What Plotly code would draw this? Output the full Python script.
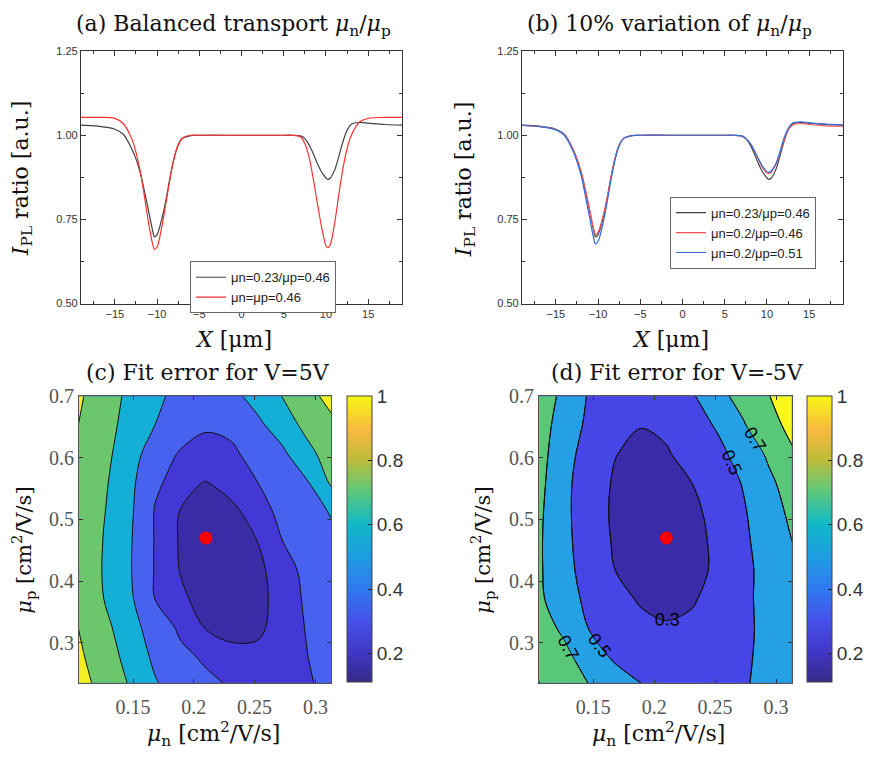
import numpy as np
import plotly.graph_objects as go

# ---------------- data: line profiles ----------------
x_um = [-19, -17, -15, -14, -13, -12.5, -12, -11.5, -11, -10.5, -10.3, -10, -9.5, -9, -8.5, -8, -7.5, -7, -6, -5,
        0, 5, 6, 7, 7.5, 8, 8.5, 9, 9.5, 10, 10.2, 10.5, 11, 11.5, 12, 12.5, 13, 14, 15, 17, 19]

black_023_046 = [1.030, 1.027, 1.018, 1.003, 0.960, 0.930, 0.890, 0.835, 0.775, 0.715, 0.698, 0.705, 0.745, 0.800,
                 0.870, 0.930, 0.970, 0.990, 0.999, 1.000, 1.000, 1.000, 1.000, 0.998, 0.990, 0.972, 0.945, 0.915,
                 0.890, 0.873, 0.869, 0.873, 0.895, 0.935, 0.980, 1.015, 1.033, 1.038, 1.036, 1.032, 1.030]
red_equal_046 = [1.053, 1.053, 1.050, 1.035, 0.990, 0.950, 0.895, 0.820, 0.740, 0.675, 0.661, 0.668, 0.720, 0.790,
                 0.865, 0.930, 0.972, 0.992, 1.000, 1.000, 1.000, 1.000, 1.000, 0.995, 0.975, 0.935, 0.870, 0.795,
                 0.725, 0.672, 0.666, 0.675, 0.735, 0.820, 0.900, 0.960, 1.000, 1.040, 1.050, 1.053, 1.053]
red_020_046 = [1.029, 1.026, 1.017, 1.002, 0.960, 0.930, 0.892, 0.840, 0.780, 0.720, 0.705, 0.712, 0.750, 0.805,
               0.872, 0.930, 0.970, 0.990, 0.999, 1.000, 1.000, 1.000, 1.000, 0.998, 0.990, 0.977, 0.955, 0.927,
               0.903, 0.888, 0.886, 0.890, 0.910, 0.945, 0.985, 1.015, 1.030, 1.035, 1.032, 1.028, 1.027]
blue_020_051 = [1.029, 1.026, 1.016, 1.000, 0.955, 0.922, 0.880, 0.820, 0.755, 0.693, 0.677, 0.685, 0.728, 0.790,
                0.862, 0.925, 0.968, 0.990, 0.999, 1.000, 1.000, 1.000, 1.000, 0.998, 0.990, 0.976, 0.955, 0.930,
                0.907, 0.892, 0.890, 0.894, 0.913, 0.948, 0.990, 1.020, 1.036, 1.040, 1.037, 1.033, 1.031]

names_a = ["μn=0.23/μp=0.46", "μn=μp=0.46"]
names_b = ["μn=0.23/μp=0.46", "μn=0.2/μp=0.46", "μn=0.2/μp=0.51"]

# ---------------- data: fit-error maps ----------------
mu_n = [0.105, 0.126, 0.147, 0.168, 0.189, 0.210, 0.231, 0.252, 0.273, 0.294, 0.315]
mu_p = [0.230, 0.277, 0.324, 0.371, 0.418, 0.465, 0.512, 0.559, 0.606, 0.653, 0.700]

err_5V = [
    [1.15, 0.88, 0.69, 0.52, 0.42, 0.34, 0.29, 0.265, 0.27, 0.29, 0.33],
    [1.06, 0.82, 0.625, 0.465, 0.34, 0.275, 0.24, 0.225, 0.25, 0.30, 0.36],
    [1.00, 0.76, 0.58, 0.41, 0.27, 0.195, 0.16, 0.18, 0.24, 0.31, 0.37],
    [0.96, 0.70, 0.54, 0.30, 0.22, 0.16, 0.14, 0.165, 0.245, 0.32, 0.38],
    [0.94, 0.68, 0.52, 0.29, 0.195, 0.14, 0.135, 0.17, 0.26, 0.33, 0.42],
    [0.94, 0.69, 0.525, 0.29, 0.19, 0.145, 0.15, 0.20, 0.30, 0.39, 0.47],
    [0.95, 0.71, 0.54, 0.29, 0.195, 0.16, 0.175, 0.243, 0.336, 0.432, 0.52],
    [0.96, 0.73, 0.556, 0.325, 0.244, 0.195, 0.238, 0.296, 0.394, 0.49, 0.75],
    [0.98, 0.76, 0.58, 0.41, 0.28, 0.24, 0.27, 0.36, 0.465, 0.64, 0.82],
    [1.00, 0.79, 0.62, 0.50, 0.40, 0.32, 0.34, 0.46, 0.588, 0.77, 0.95],
    [1.05, 0.82, 0.65, 0.536, 0.45, 0.37, 0.45, 0.564, 0.705, 0.905, 1.12],
]
err_m5V = [
    [1.02, 0.85, 0.70, 0.60, 0.51, 0.46, 0.44, 0.45, 0.48, 0.56, 0.62],
    [0.90, 0.76, 0.59, 0.47, 0.41, 0.38, 0.39, 0.42, 0.47, 0.55, 0.62],
    [0.80, 0.66, 0.49, 0.41, 0.35, 0.32, 0.34, 0.39, 0.46, 0.55, 0.63],
    [0.74, 0.58, 0.455, 0.36, 0.28, 0.24, 0.28, 0.37, 0.46, 0.56, 0.64],
    [0.73, 0.56, 0.42, 0.30, 0.22, 0.19, 0.23, 0.34, 0.45, 0.57, 0.66],
    [0.73, 0.55, 0.40, 0.28, 0.21, 0.19, 0.24, 0.34, 0.46, 0.60, 0.71],
    [0.74, 0.545, 0.39, 0.27, 0.21, 0.20, 0.25, 0.372, 0.48, 0.62, 0.75],
    [0.76, 0.55, 0.393, 0.28, 0.22, 0.23, 0.30, 0.406, 0.51, 0.66, 0.80],
    [0.78, 0.57, 0.42, 0.305, 0.26, 0.285, 0.36, 0.45, 0.574, 0.73, 0.98],
    [0.80, 0.605, 0.46, 0.36, 0.305, 0.33, 0.42, 0.52, 0.675, 0.897, 1.10],
    [0.83, 0.648, 0.48, 0.43, 0.38, 0.38, 0.48, 0.62, 0.795, 0.99, 1.20],
]
levels_5V = [0.2, 0.3, 0.5, 0.7, 1.0]
levels_m5V = [0.3, 0.5, 0.7, 1.0]
best_fit = (0.21, 0.47)

# ---------------- styles ----------------
bands_5V = ["#3A2CA4", "#4338D6", "#4862F0", "#14AFD6", "#6CC76C", "#F4F020"]
bands_m5V = ["#3A2BA8", "#4646E6", "#25A0E4", "#58C878", "#F8F81C"]
parula_like = [[0.0, "#352A87"], [0.10, "#4136C4"], [0.21, "#4550E8"], [0.32, "#3078F0"],
               [0.45, "#1CA0E0"], [0.55, "#10B8C8"], [0.67, "#60C878"], [0.78, "#C0BC38"],
               [0.88, "#F8B840"], [1.0, "#F8F814"]]

W, H = 870, 762
def px(x): return x / W
def py(y): return 1 - y / H

serif = "DejaVu Serif, serif"
tickserif = "Liberation Serif, Times New Roman, serif"
sans = "Liberation Sans, Arial, sans-serif"

fig = go.Figure()

# (a)
cols_a = ["#404040", "#FF3030"]
for yv, nm, c in zip([black_023_046, red_equal_046], names_a, cols_a):
    fig.add_trace(go.Scatter(x=x_um, y=yv, mode="lines", name=nm, line=dict(color=c, width=1.2, shape="spline"),
                             xaxis="x", yaxis="y", legend="legend"))
# (b)
cols_b = ["#404040", "#FF5050", "#3070E0"]
for yv, nm, c in zip([black_023_046, red_020_046, blue_020_051], names_b, cols_b):
    fig.add_trace(go.Scatter(x=x_um, y=yv, mode="lines", name=nm, line=dict(color=c, width=1.2, shape="spline"),
                             xaxis="x2", yaxis="y2", legend="legend2"))

# (c), (d) filled bands via constraint contours (plotly shades the side that violates the constraint,
# so "<" L shades the region z > L)
def add_map(z, levels, bands, xa, ya, labels):
    for L, col in zip(levels, bands[1:]):
        fig.add_trace(go.Contour(x=mu_n, y=mu_p, z=z, xaxis=xa, yaxis=ya, showscale=False, showlegend=False,
                                 contours=dict(type="constraint", operation="<", value=L),
                                 fillcolor=col, line=dict(color="#111111", width=1), hoverinfo="skip"))
    if labels:
        for L in levels:
            fig.add_trace(go.Contour(x=mu_n, y=mu_p, z=z, xaxis=xa, yaxis=ya, showscale=False, showlegend=False,
                                     contours=dict(start=L, end=L, size=0.1, coloring="none", showlabels=True,
                                                   labelfont=dict(family=sans, size=18, color="black")),
                                     line=dict(color="#111111", width=1), hoverinfo="skip"))
    fig.add_trace(go.Scatter(x=[best_fit[0]], y=[best_fit[1]], mode="markers", xaxis=xa, yaxis=ya,
                             marker=dict(color="#FF0000", size=13), showlegend=False, hoverinfo="skip"))

add_map(err_5V, levels_5V, bands_5V, "x3", "y3", False)
add_map(err_m5V, levels_m5V, bands_m5V, "x4", "y4", True)

# colorbars
def add_cbar(xa, ya, xpos):
    cb = dict(x=xpos, xanchor="left", y=py(394), yanchor="top",
              len=293 / H, lenmode="fraction", thickness=25,
              xpad=0, ypad=0, outlinecolor="#444", outlinewidth=1,
              tickvals=[0.2, 0.4, 0.6, 0.8, 1.0],
              ticktext=["0.2", "0.4", "0.6", "0.8", "1"],
              ticks="inside", ticklen=4, tickcolor="#222",
              tickfont=dict(family=sans, size=19, color="#333"))
    mk = dict(color=[0.5], cmin=0.11, cmax=1.0, colorscale=parula_like, showscale=True, colorbar=cb)
    fig.add_trace(go.Scatter(x=[None], y=[None], mode="markers", xaxis=xa, yaxis=ya, showlegend=False,
                             marker=mk))

add_cbar("x3", "y3", px(347))
add_cbar("x4", "y4", px(807))

# shapes: band background for lowest level
shapes = []
for xr, col in [("x3", bands_5V[0]), ("x4", bands_m5V[0])]:
    yr = "y" + xr[1:]
    shapes.append(dict(type="rect", xref=xr + " domain", yref=yr + " domain", x0=0, x1=1, y0=0, y1=1,
                       fillcolor=col, line=dict(width=0), layer="below"))

line_ax = dict(showline=True, linecolor="#333", linewidth=1.2, mirror="allticks", ticks="inside",
               ticklen=5, tickcolor="#333", showgrid=False, zeroline=False,
               tickfont=dict(family=sans, size=11, color="#333"))
map_ax = dict(showline=True, linecolor="#555", linewidth=1, mirror="allticks", ticks="inside",
              ticklen=4, tickcolor="#333", showgrid=False, zeroline=False,
              tickfont=dict(family=tickserif, size=20, color="#555"))

da = [px(81), px(402)]
db = [px(522), px(843)]
dy_top = [py(299.3), py(41)]
dc = [px(79), px(331)]
dd = [px(539), px(791.7)]
dy_bot = [py(687), py(394)]

xr_line = [-19, 19]
minor_x = dict(dtick=2.5, tick0=0, ticks="inside", ticklen=3, tickcolor="#333")
minor_y = dict(dtick=0.125, tick0=0.5, ticks="inside", ticklen=3, tickcolor="#333")
fig.update_layout(
    width=W, height=H, margin=dict(l=0, r=0, t=0, b=0),
    paper_bgcolor="white", plot_bgcolor="white", shapes=shapes,
    xaxis=dict(domain=da, range=xr_line, anchor="y", tickvals=[-15, -10, -5, 0, 5, 10, 15],
               minor=minor_x, **line_ax),
    yaxis=dict(domain=dy_top, range=[0.5, 1.25], anchor="x", tickvals=[0.5, 0.75, 1.0, 1.25], tickformat=".2f",
               minor=minor_y, **line_ax),
    xaxis2=dict(domain=db, range=xr_line, anchor="y2", tickvals=[-15, -10, -5, 0, 5, 10, 15],
                minor=minor_x, **line_ax),
    yaxis2=dict(domain=dy_top, range=[0.5, 1.25], anchor="x2", tickvals=[0.5, 0.75, 1.0, 1.25], tickformat=".2f",
                minor=minor_y, **line_ax),
    xaxis3=dict(domain=dc, range=[0.1056, 0.3128], anchor="y3", tickvals=[0.15, 0.2, 0.25, 0.3],
                ticktext=["0.15", "0.2", "0.25", "0.3"], ticklabelstandoff=6, **map_ax),
    yaxis3=dict(domain=dy_bot, range=[0.235, 0.70], anchor="x3", tickvals=[0.3, 0.4, 0.5, 0.6, 0.7],
                ticktext=["0.3", "0.4", "0.5", "0.6", "0.7"], **map_ax),
    xaxis4=dict(domain=dd, range=[0.1056, 0.3128], anchor="y4", tickvals=[0.15, 0.2, 0.25, 0.3],
                ticktext=["0.15", "0.2", "0.25", "0.3"], ticklabelstandoff=6, **map_ax),
    yaxis4=dict(domain=dy_bot, range=[0.235, 0.70], anchor="x4", tickvals=[0.3, 0.4, 0.5, 0.6, 0.7],
                ticktext=["0.3", "0.4", "0.5", "0.6", "0.7"], **map_ax),
    legend=dict(x=px(190), y=py(256), xanchor="left", yanchor="top", bgcolor="white", bordercolor="#666",
                borderwidth=1, font=dict(family=sans, size=13, color="#222"), tracegroupgap=0),
    legend2=dict(x=px(670), y=py(190), xanchor="left", yanchor="top", bgcolor="white", bordercolor="#666",
                 borderwidth=1, font=dict(family=sans, size=13, color="#222"), tracegroupgap=0),
)

ann = []
def txt(x, y, s, size, angle=0):
    ann.append(dict(x=px(x), y=py(y), xref="paper", yref="paper", text=s, showarrow=False, textangle=angle,
                    xanchor="center", yanchor="middle", font=dict(family=serif, size=size, color="#111")))

mu = "<i>μ</i>"
txt(233, 15, "(a) Balanced transport " + mu + "<sub>n</sub>/" + mu + "<sub>p</sub>", 22)
txt(669, 15, "(b) 10% variation of " + mu + "<sub>n</sub>/" + mu + "<sub>p</sub>", 22)
txt(208, 370, "(c) Fit error for V=5V", 22)
txt(677, 370, "(d) Fit error for V=-5V", 22)
ylab_top = "<i>I</i><sub>PL</sub> ratio [a.u.]"
txt(22, 172, ylab_top, 22, -90)
txt(465, 172, ylab_top, 22, -90)
txt(233, 336, "<i>X</i> [μm]", 22)
txt(670, 336, "<i>X</i> [μm]", 22)
ylab_bot = mu + "<sub>p</sub> [cm<sup>2</sup>/V/s]"
xlab_bot = mu + "<sub>n</sub> [cm<sup>2</sup>/V/s]"
txt(23, 552, ylab_bot, 21, -90)
txt(482, 552, ylab_bot, 21, -90)
txt(213, 740, xlab_bot, 22)
txt(658, 740, xlab_bot, 22)
fig.update_layout(annotations=ann)

fig.write_html("out.html", config={"displayModeBar": False},
               post_script="document.body.style.margin='0';document.body.style.overflow='hidden';")
